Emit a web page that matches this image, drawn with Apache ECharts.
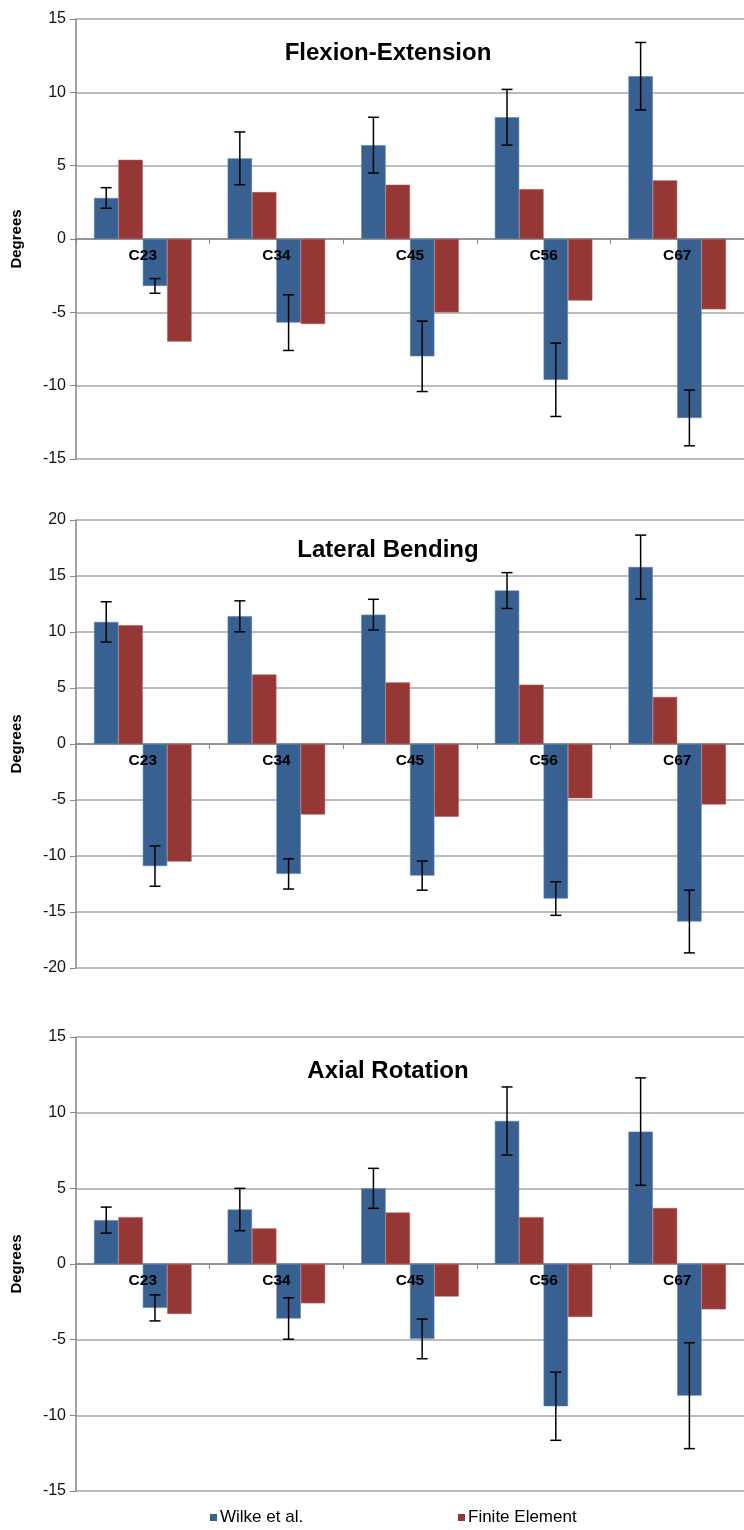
<!DOCTYPE html>
<html>
<head>
<meta charset="utf-8">
<script src="https://cdn.jsdelivr.net/npm/echarts@6/dist/echarts.min.js"></script>
<style>
html,body{margin:0;padding:0;background:#fff;}
#chart{width:744px;height:1530px;}
</style>
</head>
<body>
<div id="chart"></div>
<script>
const categories = ['C23', 'C34', 'C45', 'C56', 'C67'];
const panelTitles = ['Flexion-Extension', 'Lateral Bending', 'Axial Rotation'];
const legendNames = ['Wilke et al.', 'Finite Element'];

// Flexion-Extension
const flexWilkePos    = [2.8, 5.5, 6.4, 8.3, 11.1];
const flexWilkePosErr = [0.7, 1.8, 1.9, 1.9, 2.3];
const flexFEPos       = [5.4, 3.2, 3.7, 3.4, 4.0];
const flexWilkeNeg    = [-3.2, -5.7, -8.0, -9.6, -12.2];
const flexWilkeNegErr = [0.5, 1.9, 2.4, 2.5, 1.9];
const flexFENeg       = [-7.0, -5.8, -5.0, -4.2, -4.8];

// Lateral Bending
const latWilkePos    = [10.9, 11.4, 11.55, 13.7, 15.8];
const latWilkePosErr = [1.8, 1.38, 1.37, 1.6, 2.85];
const latFEPos       = [10.6, 6.2, 5.5, 5.3, 4.2];
const latWilkeNeg    = [-10.9, -11.6, -11.75, -13.8, -15.85];
const latWilkeNegErr = [1.8, 1.35, 1.3, 1.5, 2.8];
const latFENeg       = [-10.5, -6.3, -6.5, -4.85, -5.4];

// Axial Rotation
const axWilkePos    = [2.9, 3.6, 5.0, 9.45, 8.75];
const axWilkePosErr = [0.86, 1.4, 1.32, 2.25, 3.55];
const axFEPos       = [3.1, 2.35, 3.4, 3.1, 3.7];
const axWilkeNeg    = [-2.9, -3.6, -4.95, -9.4, -8.7];
const axWilkeNegErr = [0.86, 1.37, 1.31, 2.25, 3.5];
const axFENeg       = [-3.3, -2.6, -2.15, -3.5, -3.0];

const yMins = [-15, -20, -15];
const yMaxs = [15, 20, 15];
const yIntervals = [5, 5, 5];

const panels = [
  {wp: flexWilkePos, wpe: flexWilkePosErr, fp: flexFEPos, wn: flexWilkeNeg, wne: flexWilkeNegErr, fn: flexFENeg},
  {wp: latWilkePos, wpe: latWilkePosErr, fp: latFEPos, wn: latWilkeNeg, wne: latWilkeNegErr, fn: latFENeg},
  {wp: axWilkePos, wpe: axWilkePosErr, fp: axFEPos, wn: axWilkeNeg, wne: axWilkeNegErr, fn: axFENeg}
];

const BLUE = '#386192';
const RED = '#953735';
const GRID_COLOR = '#a6a6a6';
const CAT_GAP = 0.27;
const FONT = 'Arial, "Liberation Sans", sans-serif';

const gridLayout = [
  {top: 19, height: 440},
  {top: 520, height: 448},
  {top: 1037, height: 454}
];
const titleTops = [36, 533, 1054];

const grids = [], xAxes = [], yAxes = [], series = [], titles = [];

function errRender(slot) {
  return function (params, api) {
    const c = api.coord([api.value(0), api.value(1)]);
    const band = api.size([1, 0])[0];
    const bw = band * (1 - CAT_GAP) / 4;
    const x = c[0] + (slot - 1.5) * bw;
    const e = api.value(2);
    const top = api.coord([api.value(0), api.value(1) + e])[1];
    const bot = api.coord([api.value(0), api.value(1) - e])[1];
    const cap = 5.5;
    const st = {stroke: '#000', lineWidth: 1.5};
    return {
      type: 'group',
      children: [
        {type: 'line', shape: {x1: x, y1: top, x2: x, y2: bot}, style: st},
        {type: 'line', shape: {x1: x - cap, y1: top, x2: x + cap, y2: top}, style: st},
        {type: 'line', shape: {x1: x - cap, y1: bot, x2: x + cap, y2: bot}, style: st}
      ]
    };
  };
}

function catLabelRender(params, api) {
  const c = api.coord([api.value(0), 0]);
  return {
    type: 'text',
    x: c[0], y: c[1] + 9,
    style: {
      text: categories[params.dataIndex],
      fontFamily: FONT, fontSize: 15.5, fontWeight: 'bold', fill: '#000',
      align: 'center', verticalAlign: 'top'
    }
  };
}

panels.forEach(function (p, i) {
  grids.push({left: 76, right: 0, top: gridLayout[i].top, height: gridLayout[i].height, containLabel: false});
  titles.push({
    text: panelTitles[i], left: 383, top: titleTops[i], textAlign: 'center',
    textStyle: {fontFamily: FONT, fontSize: 24, fontWeight: 'bold', color: '#000'}
  });
  xAxes.push({
    type: 'category', gridIndex: i, data: categories,
    axisLine: {onZero: true, lineStyle: {color: '#868686', width: 1.5}},
    axisTick: {show: true, length: 5, alignWithLabel: false, lineStyle: {color: '#868686'}},
    axisLabel: {show: false},
    splitLine: {show: false}
  });
  yAxes.push({
    type: 'value', gridIndex: i, min: yMins[i], max: yMaxs[i], interval: yIntervals[i],
    name: 'Degrees', nameLocation: 'middle', nameGap: 52,
    nameTextStyle: {fontFamily: FONT, fontSize: 15, fontWeight: 'bold', color: '#000'},
    axisLine: {show: true, lineStyle: {color: '#868686', width: 1.5}},
    axisTick: {show: true, length: 6, lineStyle: {color: '#868686'}},
    axisLabel: {fontFamily: FONT, fontSize: 16, color: '#111', margin: 10},
    splitLine: {show: true, lineStyle: {color: GRID_COLOR, width: 1.5}}
  });
  const barBase = {
    type: 'bar', xAxisIndex: i, yAxisIndex: i, barGap: '0%', barCategoryGap: (CAT_GAP * 100) + '%'
  };
  series.push(Object.assign({}, barBase, {name: legendNames[0], data: p.wp, itemStyle: {color: BLUE, borderColor: '#5b7fab', borderWidth: 0.6}}));
  series.push(Object.assign({}, barBase, {name: legendNames[1], data: p.fp, itemStyle: {color: RED, borderColor: '#b05a58', borderWidth: 0.6}}));
  series.push(Object.assign({}, barBase, {name: legendNames[0], data: p.wn, itemStyle: {color: BLUE, borderColor: '#5b7fab', borderWidth: 0.6}}));
  series.push(Object.assign({}, barBase, {name: legendNames[1], data: p.fn, itemStyle: {color: RED, borderColor: '#b05a58', borderWidth: 0.6}}));
  series.push({
    type: 'custom', xAxisIndex: i, yAxisIndex: i, z: 8, silent: true,
    renderItem: catLabelRender, encode: {x: 0, y: 1},
    data: categories.map(function (c, k) { return [k, 0]; })
  });
  series.push({
    type: 'custom', xAxisIndex: i, yAxisIndex: i, z: 10, silent: true,
    renderItem: errRender(0), encode: {x: 0, y: 1},
    data: p.wp.map(function (v, k) { return [k, v, p.wpe[k]]; })
  });
  series.push({
    type: 'custom', xAxisIndex: i, yAxisIndex: i, z: 10, silent: true,
    renderItem: errRender(2), encode: {x: 0, y: 1},
    data: p.wn.map(function (v, k) { return [k, v, p.wne[k]]; })
  });
});

const chart = echarts.init(document.getElementById('chart'), null, {renderer: 'canvas'});
chart.setOption({
  animation: false,
  backgroundColor: '#fff',
  title: titles,
  legend: [
    {data: [legendNames[0]], left: 205, top: 1504, icon: 'rect', itemWidth: 7, itemHeight: 7, itemGap: 4,
     itemStyle: {borderWidth: 0},
     textStyle: {fontFamily: FONT, fontSize: 17, color: '#000', padding: [0, 0, 0, -2]}, selectedMode: false},
    {data: [legendNames[1]], left: 453, top: 1504, icon: 'rect', itemWidth: 7, itemHeight: 7, itemGap: 4,
     itemStyle: {borderWidth: 0},
     textStyle: {fontFamily: FONT, fontSize: 17, color: '#000', padding: [0, 0, 0, -2]}, selectedMode: false}
  ],
  grid: grids,
  xAxis: xAxes,
  yAxis: yAxes,
  series: series
});
</script>
</body>
</html>
